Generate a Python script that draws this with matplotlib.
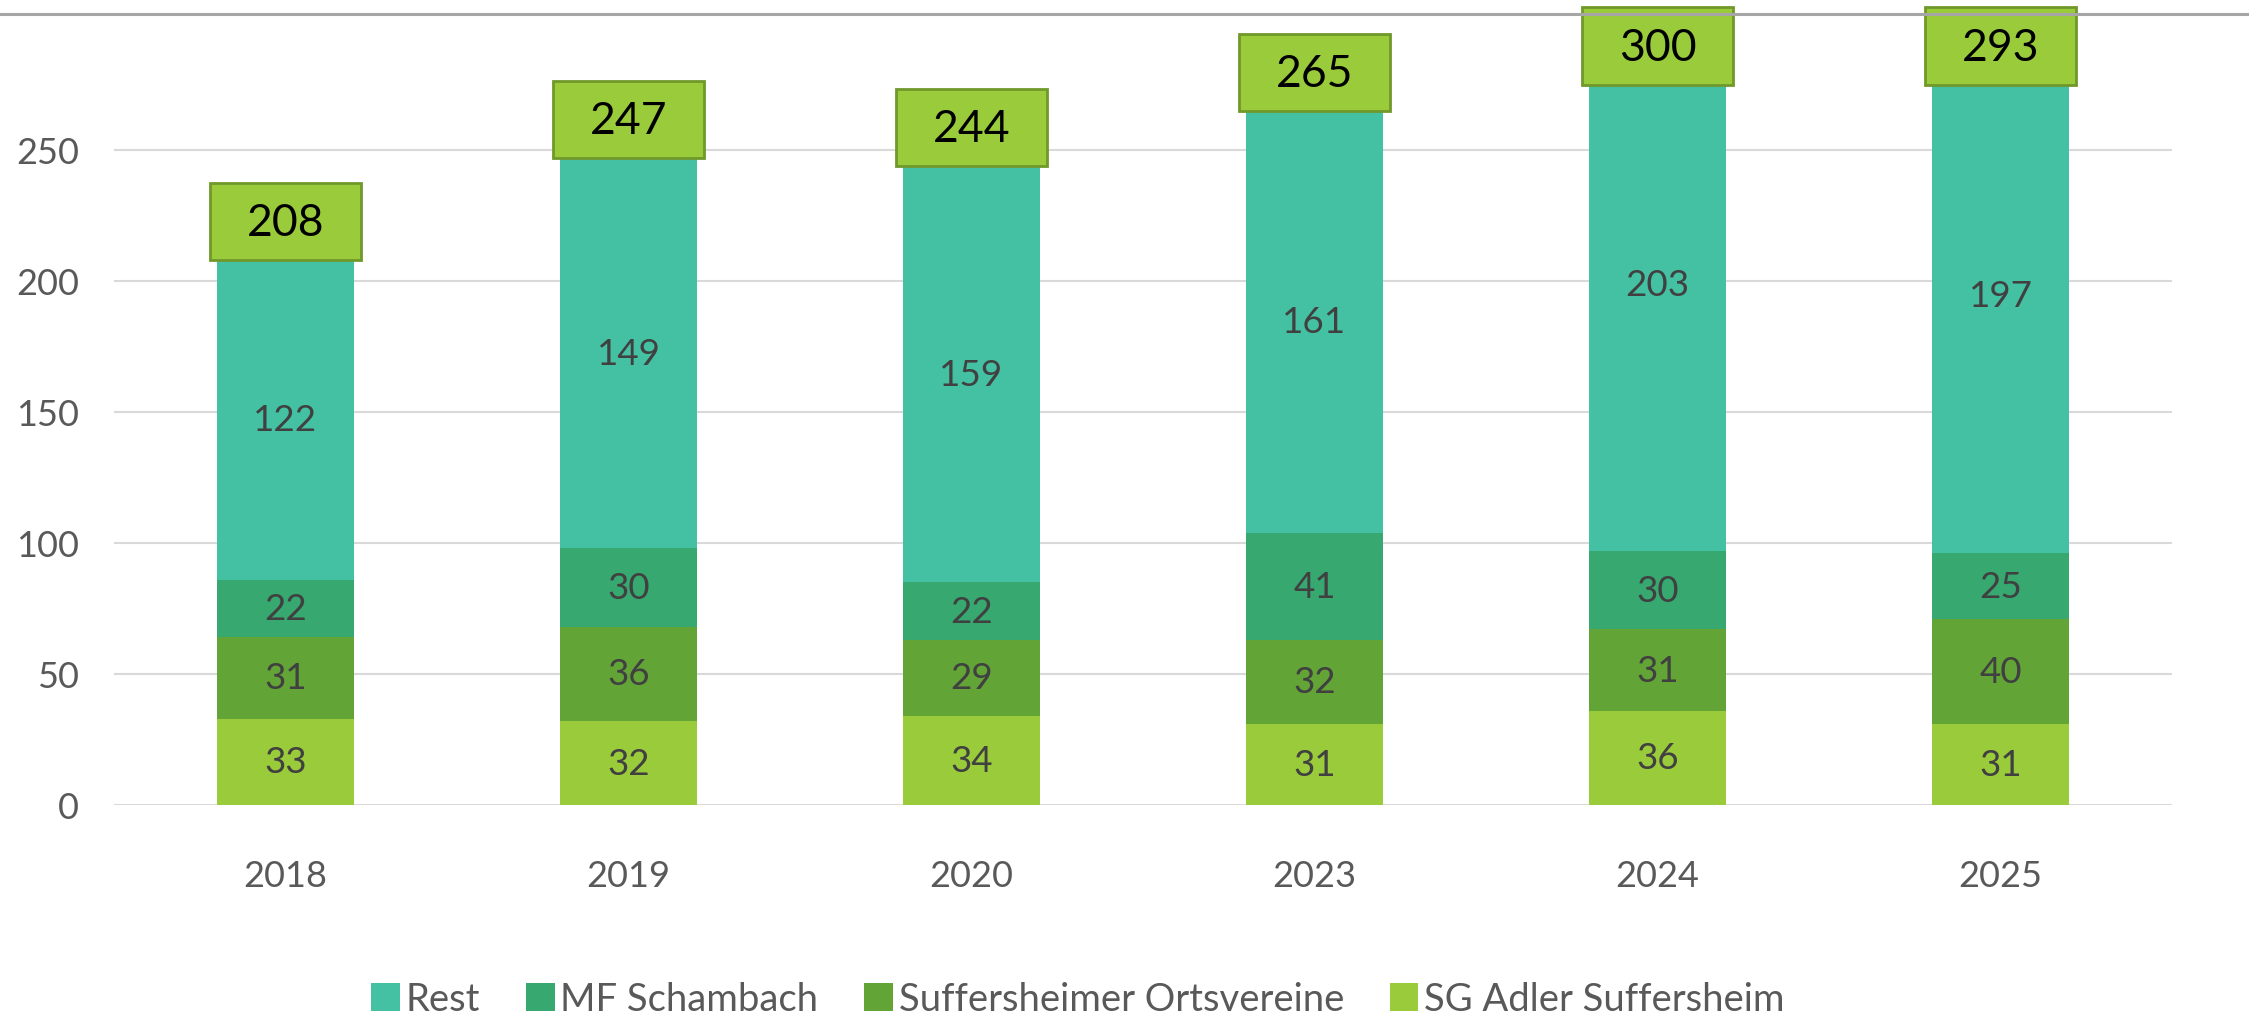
import numpy as np
import matplotlib.pyplot as plt
from matplotlib.patches import Rectangle
from matplotlib.lines import Line2D

plt.rcParams['font.family'] = ['Lato', 'DejaVu Sans']

years = ['2018', '2019', '2020', '2023', '2024', '2025']
sg_adler = [33, 32, 34, 31, 36, 31]
ortsvereine = [31, 36, 29, 32, 31, 40]
mf_schambach = [22, 30, 22, 41, 30, 25]
rest = [122, 149, 159, 161, 203, 197]

series = [
    ('SG Adler Suffersheim', sg_adler, '#9ACB3A'),
    ('Suffersheimer Ortsvereine', ortsvereine, '#63A437'),
    ('MF Schambach', mf_schambach, '#36A870'),
    ('Rest', rest, '#44C1A3'),
]

fig = plt.figure(figsize=(22.49, 10.20), dpi=100)
ax = fig.add_axes([114 / 2249, 1 - 806 / 1020, 2058 / 2249, 786 / 1020])

x = np.arange(len(years))
bottom = np.zeros(len(years))
handles = {}
for name, vals, col in series:
    vals = np.array(vals)
    b = ax.bar(x, vals, 0.40, bottom=bottom, color=col, zorder=2)
    handles[name] = b
    for xi, v, bt in zip(x, vals, bottom):
        ax.text(xi, bt + v / 2, str(v), ha='center', va='center',
                fontsize=26.5, color='#404040', zorder=3)
    bottom = bottom + vals

# total label boxes (pushed down when they would leave the chart)
box_w, box_h = 0.443, 29.4
for xi, tot in zip(x, bottom):
    y0 = min(tot, 275)
    r = Rectangle((xi - box_w / 2, y0), box_w, box_h, facecolor='#9ACB3A',
                  edgecolor='#71982B', linewidth=2, clip_on=False, zorder=4)
    ax.add_patch(r)
    ax.text(xi, y0 + box_h / 2 - 0.5, str(int(tot)), ha='center', va='center',
            fontsize=32, color='black', zorder=5, clip_on=False)

ax.set_xlim(-0.5, len(years) - 0.5)
ax.set_ylim(0, 300)
ax.set_yticks(np.arange(0, 251, 50))
ax.set_xticks(x)
ax.set_xticklabels(years)
ax.tick_params(axis='both', length=0, labelsize=26, labelcolor='#595959')
ax.tick_params(axis='x', pad=39)
ax.tick_params(axis='y', pad=25)
ax.grid(axis='y', color='#D9D9D9', linewidth=1.5, zorder=0)
for s in ax.spines.values():
    s.set_visible(False)

fig.add_artist(Line2D([0, 1], [1 - 15 / 1020] * 2, color='#A6A6A6', linewidth=2.2))

order = ['Rest', 'MF Schambach', 'Suffersheimer Ortsvereine', 'SG Adler Suffersheim']
leg = fig.legend([handles[n] for n in order], order, loc='center',
                 bbox_to_anchor=(1078 / 2249, 1 - 1000 / 1020), ncol=4,
                 frameon=False, fontsize=27.5, handlelength=0.75, handleheight=0.75,
                 handletextpad=0.15, columnspacing=1.2)
for t in leg.get_texts():
    t.set_color('#595959')

fig.savefig('out.png', dpi=100)
